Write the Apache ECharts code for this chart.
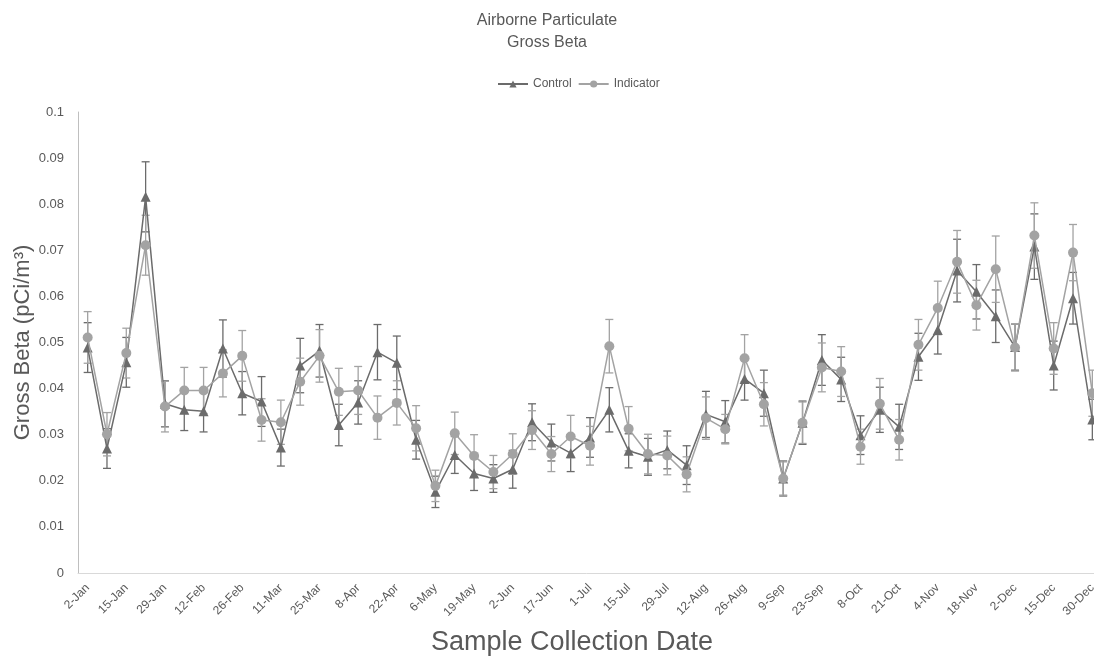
<!DOCTYPE html>
<html><head><meta charset="utf-8">
<script src="https://cdn.jsdelivr.net/npm/echarts@6/dist/echarts.min.js"></script>
<style>html,body{margin:0;padding:0;background:#fff}#c{width:1094px;height:657px}</style>
</head><body><div id="c"></div>
<script>
const dates = ['2-Jan','8-Jan','15-Jan','22-Jan','29-Jan','5-Feb','12-Feb','19-Feb','26-Feb','4-Mar','11-Mar','18-Mar','25-Mar','1-Apr','8-Apr','15-Apr','22-Apr','29-Apr','6-May','13-May','19-May','27-May','2-Jun','9-Jun','17-Jun','24-Jun','1-Jul','8-Jul','15-Jul','22-Jul','29-Jul','5-Aug','12-Aug','19-Aug','26-Aug','2-Sep','9-Sep','16-Sep','23-Sep','30-Sep','8-Oct','14-Oct','21-Oct','28-Oct','4-Nov','11-Nov','18-Nov','25-Nov','2-Dec','9-Dec','15-Dec','22-Dec','30-Dec'];
const control = [0.0489,0.0270,0.0457,0.0816,0.0367,0.0354,0.0351,0.0487,0.0390,0.0372,0.0272,0.0450,0.0482,0.0321,0.0370,0.0479,0.0456,0.0289,0.0176,0.0256,0.0216,0.0205,0.0225,0.0327,0.0283,0.0260,0.0294,0.0354,0.0265,0.0252,0.0267,0.0234,0.0344,0.0328,0.0421,0.0390,0.0205,0.0326,0.0462,0.0420,0.0299,0.0354,0.0317,0.0469,0.0527,0.0656,0.0610,0.0557,0.0490,0.0708,0.0450,0.0596,0.0333];
const indicator = [0.0511,0.0301,0.0477,0.0711,0.0361,0.0396,0.0396,0.0433,0.0471,0.0332,0.0327,0.0415,0.0471,0.0393,0.0396,0.0337,0.0369,0.0314,0.0189,0.0303,0.0254,0.0219,0.0258,0.0310,0.0258,0.0296,0.0276,0.0492,0.0313,0.0258,0.0255,0.0214,0.0336,0.0312,0.0466,0.0366,0.0205,0.0326,0.0446,0.0437,0.0274,0.0367,0.0289,0.0495,0.0575,0.0675,0.0581,0.0659,0.0489,0.0732,0.0487,0.0695,0.0390];
const controlErr = [0.0054,0.0043,0.0054,0.0076,0.0050,0.0045,0.0045,0.0062,0.0047,0.0054,0.0040,0.0059,0.0057,0.0045,0.0047,0.0060,0.0058,0.0042,0.0034,0.0040,0.0037,0.0030,0.0041,0.0040,0.0040,0.0040,0.0043,0.0048,0.0037,0.0040,0.0041,0.0042,0.0050,0.0046,0.0046,0.0050,0.0038,0.0047,0.0055,0.0048,0.0042,0.0049,0.0049,0.0051,0.0052,0.0068,0.0059,0.0057,0.0050,0.0071,0.0053,0.0056,0.0044];
const indicatorErr = [0.0056,0.0047,0.0054,0.0065,0.0055,0.0050,0.0050,0.0051,0.0055,0.0046,0.0048,0.0051,0.0057,0.0051,0.0052,0.0047,0.0048,0.0049,0.0034,0.0046,0.0046,0.0036,0.0044,0.0042,0.0038,0.0046,0.0042,0.0058,0.0048,0.0043,0.0042,0.0038,0.0046,0.0032,0.0051,0.0047,0.0036,0.0045,0.0053,0.0054,0.0038,0.0055,0.0044,0.0055,0.0058,0.0068,0.0054,0.0072,0.0051,0.0071,0.0056,0.0061,0.0050];

const CTRL = '#6b6b6b', IND = '#a3a3a3', TXT = '#595959';
const FONT = 'Arial, "Liberation Sans", sans-serif';

function errData(vals, errs){ return vals.map((v,i)=>[i, v-errs[i], v+errs[i]]); }
function errItem(color){
  return function(params, api){
    const x = api.value(0), lo = api.value(1), hi = api.value(2);
    const p1 = api.coord([x, hi]), p2 = api.coord([x, lo]);
    const w = 4, st = {stroke: color, lineWidth: 1.3};
    return {type:'group', children:[
      {type:'line', shape:{x1:p1[0],y1:p1[1],x2:p2[0],y2:p2[1]}, style:st},
      {type:'line', shape:{x1:p1[0]-w,y1:p1[1],x2:p1[0]+w,y2:p1[1]}, style:st},
      {type:'line', shape:{x1:p2[0]-w,y1:p2[1],x2:p2[0]+w,y2:p2[1]}, style:st}
    ]};
  };
}

const chart = echarts.init(document.getElementById('c'), null, {renderer:'canvas'});
chart.setOption({
  animation: false,
  backgroundColor: '#fff',
  textStyle: {fontFamily: FONT},
  title: {
    text: 'Airborne Particulate\nGross Beta',
    left: 'center', top: 5,
    textStyle: {color: TXT, fontSize: 16, fontWeight: 'normal', lineHeight: 22, fontFamily: FONT}
  },
  legend: {
    data: ['Control', 'Indicator'],
    top: 73, left: 492,
    itemWidth: 30, itemHeight: 9, itemGap: 6,
    textStyle: {color: TXT, fontSize: 12, fontFamily: FONT}
  },
  grid: {left: 78, top: 112, width: 1024, bottom: 84, containLabel: false, outerBoundsMode: 'none'},
  xAxis: {
    type: 'category', data: dates, boundaryGap: true,
    axisLine: {show: true, lineStyle: {color: '#d9d9d9', width: 1}},
    axisTick: {show: false},
    axisLabel: {interval: 1, rotate: 45, color: TXT, fontSize: 12, margin: 13},
    name: 'Sample Collection Date', nameLocation: 'middle', nameGap: 56, nameMoveOverlap: false,
    nameTextStyle: {color: TXT, fontSize: 27, padding: [0, 36, 0, 0]}
  },
  yAxis: {
    type: 'value', min: 0, max: 0.1, interval: 0.01,
    axisLine: {show: true, lineStyle: {color: '#bfbfbf', width: 1}},
    axisTick: {show: false},
    splitLine: {show: false},
    axisLabel: {color: TXT, fontSize: 13, margin: 14},
    name: 'Gross Beta (pCi/m³)', nameLocation: 'middle', nameGap: 44, nameMoveOverlap: false,
    nameTextStyle: {color: TXT, fontSize: 22}
  },
  series: [
    {type:'custom', name:'ctrlErr', renderItem: errItem(CTRL), data: errData(control, controlErr), z: 2, silent: true},
    {type:'custom', name:'indErr', renderItem: errItem(IND), data: errData(indicator, indicatorErr), z: 2, silent: true},
    {name:'Control', type:'line', data: control, symbol:'triangle', symbolSize: 10, z: 3,
      lineStyle:{color: CTRL, width: 1.5}, itemStyle:{color: CTRL}},
    {name:'Indicator', type:'line', data: indicator, symbol:'circle', symbolSize: 10, z: 4,
      lineStyle:{color: IND, width: 1.5}, itemStyle:{color: IND}}
  ]
});
</script>
</body></html>
